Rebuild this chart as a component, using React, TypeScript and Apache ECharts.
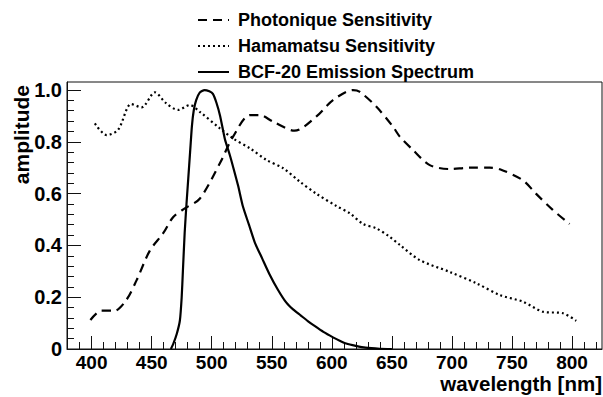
import React, { useEffect, useRef } from "react";
import * as echarts from "echarts";

const photoniqueWl = [399, 408, 419, 429, 437.5, 448.5, 459.6, 468, 477.6, 490, 506.8, 517.8, 531.8, 540, 551, 569, 587, 601, 617.7, 623, 637, 651, 656.6, 667.7, 681.6, 698, 714.8, 731.5, 740, 759, 770, 784, 798];
const photoniqueAmp = [0.112, 0.148, 0.148, 0.19, 0.266, 0.38, 0.447, 0.51, 0.543, 0.58, 0.717, 0.82, 0.903, 0.903, 0.878, 0.843, 0.897, 0.961, 1.0, 0.994, 0.936, 0.858, 0.82, 0.768, 0.71, 0.695, 0.7, 0.7, 0.694, 0.652, 0.6, 0.537, 0.483];

const hamamatsuWl = [402.7, 412.5, 422, 433, 441.6, 452.7, 462, 472, 481.8, 490, 506.8, 517.8, 531.8, 545.6, 559.5, 573.4, 587, 603.9, 615, 626, 637, 648, 656.6, 673, 698, 720.4, 740, 759, 775.8, 792.5, 803.6];
const hamamatsuAmp = [0.871, 0.826, 0.846, 0.946, 0.933, 0.991, 0.949, 0.923, 0.942, 0.916, 0.852, 0.813, 0.775, 0.73, 0.698, 0.646, 0.6, 0.552, 0.524, 0.483, 0.466, 0.434, 0.402, 0.344, 0.298, 0.254, 0.208, 0.183, 0.144, 0.138, 0.109];

const bcfWl = [466, 468, 471, 473.5, 475, 476, 477.5, 479, 480.5, 482, 483.5, 485, 487, 490, 494, 498, 501, 504, 507, 511, 515, 518, 522, 526, 531, 536, 542, 548, 555, 562, 568, 574, 580, 586, 593, 601, 607, 612, 620, 628, 640, 650];
const bcfAmp = [0, 0.02, 0.06, 0.11, 0.2, 0.3, 0.45, 0.56, 0.66, 0.76, 0.86, 0.92, 0.96, 0.99, 1.0, 0.995, 0.985, 0.95, 0.9, 0.81, 0.75, 0.7, 0.63, 0.55, 0.48, 0.41, 0.35, 0.29, 0.23, 0.18, 0.152, 0.13, 0.108, 0.088, 0.066, 0.045, 0.031, 0.021, 0.012, 0.005, 0.001, 0];

const xMajorTicks = [400, 450, 500, 550, 600, 650, 700, 750, 800];
const xMinorTicks = [390, 400, 410, 420, 430, 440, 450, 460, 470, 480, 490, 500, 510, 520, 530, 540, 550, 560, 570, 580, 590, 600, 610, 620, 630, 640, 650, 660, 670, 680, 690, 700, 710, 720, 730, 740, 750, 760, 770, 780, 790, 800, 810, 820];
const yMajorTicks = [0, 0.2, 0.4, 0.6, 0.8, 1.0];
const yMinorTicks = [0, 0.04, 0.08, 0.12, 0.16, 0.2, 0.24, 0.28, 0.32, 0.36, 0.4, 0.44, 0.48, 0.52, 0.56, 0.6, 0.64, 0.68, 0.72, 0.76, 0.8, 0.84, 0.88, 0.92, 0.96, 1.0];

const seriesNames = ["Photonique Sensitivity", "Hamamatsu Sensitivity", "BCF-20 Emission Spectrum"];

const FONT = "'Liberation Sans', Arial, Helvetica, sans-serif";

function pairs(xs: number[], ys: number[]) {
  return xs.map((x, i) => [x, ys[i]]);
}

export default function App() {
  const ref = useRef<HTMLDivElement>(null);
  useEffect(() => {
    if (!ref.current) return;
    const chart = echarts.init(ref.current, undefined, { renderer: "svg" });
    const xMin = 379.5;
    const xMax = 825;
    const yMax = 1.031;
    const axisColor = "#111";
    const labelStyle = {
      fontFamily: FONT,
      fontWeight: "bold" as const,
      color: "#000",
    };
    chart.setOption({
      animation: false,
      backgroundColor: "#fff",
      grid: {
        left: 67,
        top: 82,
        right: 1,
        bottom: 48,
        show: true,
        borderColor: axisColor,
        borderWidth: 1,
        backgroundColor: "transparent",
      },
      legend: {
        orient: "vertical",
        left: 197,
        top: 11,
        padding: 0,
        itemWidth: 31,
        itemHeight: 14,
        itemGap: 8,
        data: seriesNames,
        itemStyle: { opacity: 0 },
        textStyle: {
          fontFamily: FONT,
          fontWeight: "bold",
          fontSize: 18,
          lineHeight: 18,
          color: "#000",
          padding: [0, 0, 0, 4],
        },
      },
      xAxis: [
        {
          type: "value",
          min: xMin,
          max: xMax,
          position: "bottom",
          axisLine: { show: true, lineStyle: { color: axisColor, width: 1 } },
          axisTick: {
            show: true,
            inside: true,
            length: 13,
            customValues: xMajorTicks,
            lineStyle: { color: axisColor, width: 1 },
          },
          axisLabel: {
            ...labelStyle,
            fontSize: 19,
            lineHeight: 16,
            margin: 5,
            customValues: xMajorTicks,
            formatter: (v: number) => String(v),
          },
          splitLine: { show: false },
        },
        {
          type: "value",
          min: xMin,
          max: xMax,
          position: "bottom",
          axisLine: { show: false },
          axisTick: {
            show: true,
            inside: true,
            length: 7,
            customValues: xMinorTicks,
            lineStyle: { color: axisColor, width: 1 },
          },
          axisLabel: { show: false },
          splitLine: { show: false },
        },
      ],
      yAxis: [
        {
          type: "value",
          min: 0,
          max: yMax,
          position: "left",
          axisLine: { show: true, lineStyle: { color: axisColor, width: 1 } },
          axisTick: {
            show: true,
            inside: true,
            length: 14,
            customValues: yMajorTicks,
            lineStyle: { color: axisColor, width: 1 },
          },
          axisLabel: {
            ...labelStyle,
            fontSize: 20,
            margin: 5,
            customValues: yMajorTicks,
            formatter: (v: number) => (v === 0 ? "0" : v.toFixed(1)),
          },
          splitLine: { show: false },
        },
        {
          type: "value",
          min: 0,
          max: yMax,
          position: "left",
          axisLine: { show: false },
          axisTick: {
            show: true,
            inside: true,
            length: 7,
            customValues: yMinorTicks,
            lineStyle: { color: axisColor, width: 1 },
          },
          axisLabel: { show: false },
          splitLine: { show: false },
        },
      ],
      graphic: [
        {
          type: "text",
          x: 602,
          y: 383.5,
          style: {
            text: "wavelength [nm]",
            fontFamily: FONT,
            fontWeight: "bold",
            fontSize: 20.5,
            lineHeight: 18,
            fill: "#000",
            align: "right",
            verticalAlign: "middle",
          },
        },
        {
          type: "text",
          x: 21,
          y: 85,
          rotation: Math.PI / 2,
          style: {
            text: "amplitude",
            fontFamily: FONT,
            fontWeight: "bold",
            fontSize: 21,
            fill: "#000",
            align: "right",
            verticalAlign: "middle",
          },
        },
      ],
      series: [
        {
          name: seriesNames[0],
          type: "line",
          data: pairs(photoniqueWl, photoniqueAmp),
          symbol: "none",
          smooth: 0.3,
          lineStyle: { color: "#000", width: 2.2, type: [9, 6] },
          itemStyle: { color: "#000" },
        },
        {
          name: seriesNames[1],
          type: "line",
          data: pairs(hamamatsuWl, hamamatsuAmp),
          symbol: "none",
          smooth: 0.3,
          lineStyle: { color: "#000", width: 2.2, type: [2, 3] },
          itemStyle: { color: "#000" },
        },
        {
          name: seriesNames[2],
          type: "line",
          data: pairs(bcfWl, bcfAmp),
          symbol: "none",
          smooth: 0.2,
          lineStyle: { color: "#000", width: 2.2, type: "solid" },
          itemStyle: { color: "#000" },
        },
      ],
    });
    return () => chart.dispose();
  }, []);
  return (
    <div
      ref={ref}
      style={{ position: "fixed", left: 0, top: 0, width: 603, height: 397, background: "#fff" }}
    />
  );
}
